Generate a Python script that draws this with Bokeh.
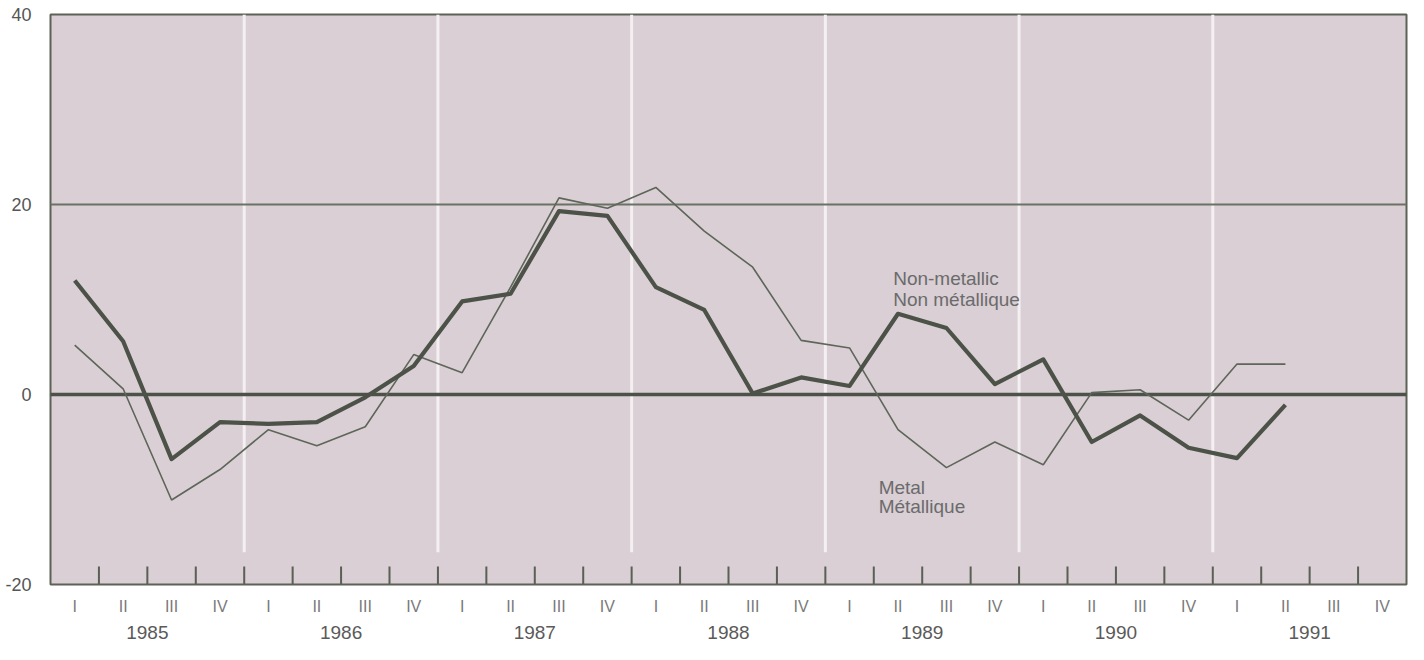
from bokeh.plotting import figure
from bokeh.models import Range1d, FixedTicker, LinearAxis, Span
from bokeh.embed import file_html
from bokeh.resources import INLINE
from bokeh.core.properties import value

# ---- data ----
years = ["1985", "1986", "1987", "1988", "1989", "1990", "1991"]
quarters = ["I", "II", "III", "IV"]
y_ticks = [-20, 0, 20, 40]
y_tick_labels = ["-20", "0", "20", "40"]

non_metallic = [12.0, 5.6, -6.8, -2.9, -3.1, -2.9, -0.3, 3.0,
                9.8, 10.6, 19.3, 18.8, 11.3, 8.9, 0.1, 1.8,
                0.9, 8.5, 7.0, 1.1, 3.7, -5.0, -2.2, -5.6,
                -6.7, -1.1]
metal = [5.2, 0.6, -11.1, -7.9, -3.7, -5.4, -3.4, 4.2,
         2.3, 11.3, 20.7, 19.6, 21.8, 17.2, 13.4, 5.7,
         4.9, -3.7, -7.7, -5.0, -7.4, 0.2, 0.5, -2.7,
         3.2, 3.2]

FONT = "Liberation Sans"
n_q = len(years) * len(quarters)

p = figure(width=1408, height=644,
           x_range=Range1d(0, n_q), y_range=Range1d(-20, 40),
           output_backend="svg", toolbar_location=None,
           x_axis_type=None, y_axis_type=None,
           min_border_left=50, min_border_right=2,
           min_border_top=14, min_border_bottom=60,
           background_fill_color="#d9cfd5", border_fill_color="white",
           outline_line_color="#5c6257", outline_line_width=2)
p.xgrid.visible = False
p.ygrid.visible = False

# white year separators
yb = [4 * k for k in range(1, len(years))]
p.segment(x0=yb, y0=[-16.6] * len(yb), x1=yb, y1=[40] * len(yb),
          line_color="#f4f0f2", line_width=3, level="underlay")

# reference lines
p.add_layout(Span(location=20, dimension="width", line_color="#6a7264",
                  line_width=2, level="underlay"))
p.add_layout(Span(location=0, dimension="width", line_color="#4c5248",
                  line_width=3.5, level="underlay"))

# quarter boundary tick marks inside frame
qb = list(range(1, n_q))
p.segment(x0=qb, y0=[-20] * len(qb), x1=qb, y1=[-18.1] * len(qb),
          line_color="#5a6055", line_width=2)

xs_nm = [i + 0.5 for i in range(len(non_metallic))]
xs_m = [i + 0.5 for i in range(len(metal))]
p.line(xs_m, metal, line_color="#5e6559", line_width=1.6)
p.line(xs_nm, non_metallic, line_color="#4c5248", line_width=4.2,
       line_join="round")

# series labels
p.text(x=[17.4, 17.4], y=[12.26, 9.97],
       text=["Non-metallic", "Non métallique"],
       text_font=value(FONT), text_font_size="19px",
       text_color="#6b6b6b", text_baseline="alphabetic")
p.text(x=[17.1, 17.1], y=[-9.77, -11.84],
       text=["Metal", "Métallique"],
       text_font=value(FONT), text_font_size="19px",
       text_color="#6b6b6b", text_baseline="alphabetic")

# y axis
yaxis = LinearAxis(ticker=FixedTicker(ticks=y_ticks),
                   major_label_overrides={t: l for t, l in zip(y_ticks, y_tick_labels)},
                   axis_line_color=None, major_tick_line_color=None,
                   minor_tick_line_color=None, major_label_standoff=13,
                   major_label_text_font=FONT, major_label_text_font_size="18px",
                   major_label_text_color="#555555")
p.add_layout(yaxis, "left")

# quarter labels
q_ticks = [i + 0.5 for i in range(n_q)]
qaxis = LinearAxis(ticker=FixedTicker(ticks=q_ticks),
                   major_label_overrides={t: quarters[i % 4] for i, t in enumerate(q_ticks)},
                   axis_line_color=None, major_tick_line_color=None,
                   minor_tick_line_color=None, major_label_standoff=7,
                   major_label_text_font=FONT, major_label_text_font_size="16px",
                   major_label_text_color="#7a7a7a")
p.add_layout(qaxis, "below")

# year labels
y_centers = [4 * k + 2 for k in range(len(years))]
yraxis = LinearAxis(ticker=FixedTicker(ticks=y_centers),
                    major_label_overrides={t: y for t, y in zip(y_centers, years)},
                    axis_line_color=None, major_tick_line_color=None,
                    minor_tick_line_color=None, major_label_standoff=2,
                    major_label_text_font=FONT, major_label_text_font_size="19px",
                    major_label_text_color="#5a5a5a")
p.add_layout(yraxis, "below")

open("out.html", "w").write(file_html(p, INLINE))
